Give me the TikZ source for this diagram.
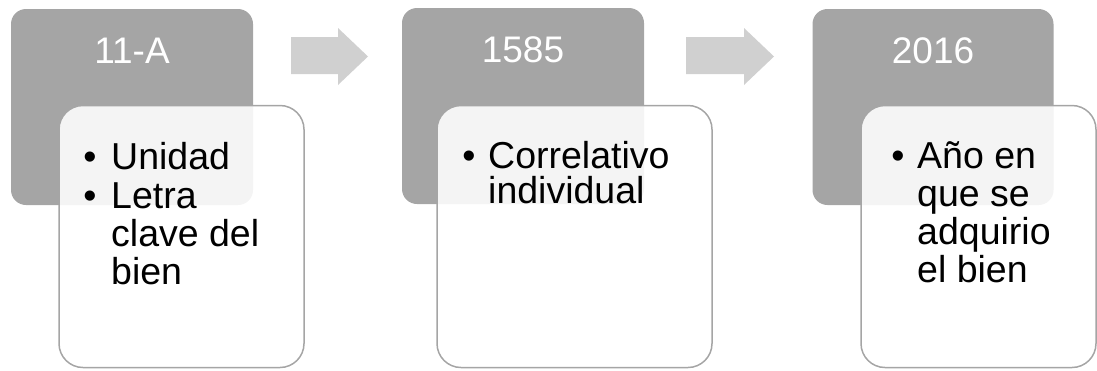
\documentclass[tikz,border=0pt]{standalone}
\usepackage{fontspec}
\setmainfont{Liberation Sans}
\definecolor{boxgray}{HTML}{A5A5A5}
\definecolor{arrowgray}{HTML}{D0D0D0}
\begin{document}
\begin{tikzpicture}[x=1pt,y=-1pt,
  graybox/.style={rectangle,rounded corners=15pt,fill=boxgray,draw=none,inner sep=0pt},
  whitebox/.style={rectangle,rounded corners=24pt,fill=white,fill opacity=0.88,draw=boxgray,line width=1.5pt,inner sep=0pt},
  headtext/.style={text=white,font=\fontsize{37}{40}\selectfont,anchor=base,inner sep=0pt},
  itemtext/.style={text=black,font=\fontsize{37.5}{40}\selectfont,anchor=base west,inner sep=0pt},
  bullet/.style={text=black,font=\fontsize{37.5}{40}\selectfont,anchor=base,inner sep=0pt},
  flowarrow/.style={fill=arrowgray,draw=none}]
\useasboundingbox (0,0) rectangle (1097,370);
% gray header boxes
\node[graybox,minimum width=242pt,minimum height=196pt] (g1) at (132,107) {};
\node[graybox,minimum width=242pt,minimum height=196pt] (g2) at (523,106) {};
\node[graybox,minimum width=241pt,minimum height=196pt] (g3) at (933,107) {};
\node[headtext] (h1) at (132,63) {11-A};
\node[headtext] (h2) at (523,62) {1585};
\node[headtext] (h3) at (933,63) {2016};
% arrows
\fill[flowarrow] (291,37) -- (338,37) -- (338,28) -- (368,56.5) -- (338,85) -- (338,74) -- (291,74) -- cycle;
\fill[flowarrow] (686,37) -- (744,37) -- (744,28) -- (774,56.5) -- (744,85) -- (744,74) -- (686,74) -- cycle;
% white boxes
\node[whitebox,minimum width=245pt,minimum height=262pt] (w1) at (181.5,236.5) {};
\node[whitebox,minimum width=275pt,minimum height=262pt] (w2) at (574.5,236.5) {};
\node[whitebox,minimum width=235pt,minimum height=262pt] (w3) at (978.5,236.5) {};
% box 1 text
\node[bullet] (b11) at (90,169) {•};
\node[itemtext] (t11) at (111,169) {Unidad};
\node[bullet] (b12) at (90,208) {•};
\node[itemtext] (t12) at (111,208) {Letra};
\node[itemtext] (t13) at (111,246) {clave del};
\node[itemtext] (t14) at (111,284) {bien};
% box 2 text
\node[bullet] (b21) at (469,168) {•};
\node[itemtext] (t21) at (488,168) {Correlativo};
\node[itemtext] (t22) at (488,203) {individual};
% box 3 text
\node[bullet] (b31) at (898,168) {•};
\node[itemtext] (t31) at (917,168) {Año en};
\node[itemtext] (t32) at (917,206) {que se};
\node[itemtext] (t33) at (917,244) {adquirio};
\node[itemtext] (t34) at (917,282) {el bien};
\end{tikzpicture}
\end{document}
